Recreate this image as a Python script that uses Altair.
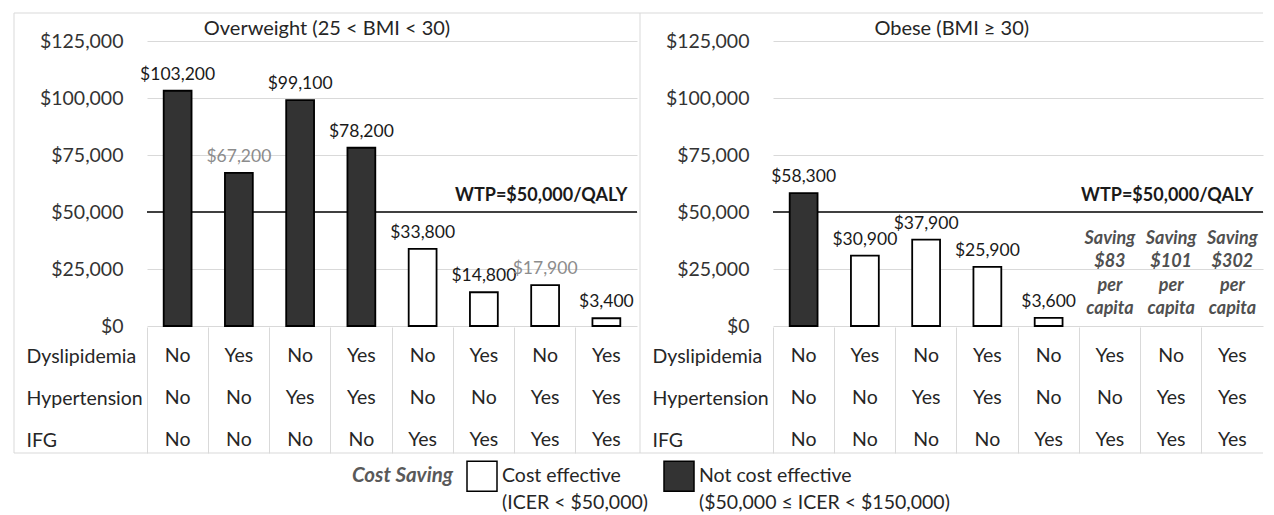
import altair as alt
import pandas as pd

FONT = "Lato"
TEXT = "#262626"
GRID = "#d9d9d9"

# ---------------- data ----------------
panel_titles = ["Overweight (25 < BMI < 30)", "Obese (BMI \u2265 30)"]
risk_factors = ["Dyslipidemia", "Hypertension", "IFG"]
dyslipidemia = ["No", "Yes", "No", "Yes", "No", "Yes", "No", "Yes"]
hypertension = ["No", "No", "Yes", "Yes", "No", "No", "Yes", "Yes"]
ifg = ["No", "No", "No", "No", "Yes", "Yes", "Yes", "Yes"]

overweight_icer = [103200, 67200, 99100, 78200, 33800, 14800, 17900, 3400]
overweight_class = ["Not cost effective"] * 4 + ["Cost effective"] * 4
overweight_saving = [None] * 8
overweight_grey_label = [False, True, False, False, False, False, True, False]

obese_icer = [58300, 30900, 37900, 25900, 3600, None, None, None]
obese_class = ["Not cost effective"] + ["Cost effective"] * 4 + ["Cost saving"] * 3
obese_saving = [None, None, None, None, None, 83, 101, 302]
obese_grey_label = [False] * 8

wtp = 50000
y_ticks = [0, 25000, 50000, 75000, 100000, 125000]
legend_classes = ["Cost effective", "Not cost effective"]
legend_colors = ["#ffffff", "#333333"]
legend_notes = ["(ICER < $50,000)", "($50,000 \u2264 ICER < $150,000)"]
legend_title = "Cost Saving"

cols = [f"{d}|{h}|{g}" for d, h, g in zip(dyslipidemia, hypertension, ifg)]

# ---------------- layout constants ----------------
W, H_BAR, H_TAB = 490, 313, 126
Y_MAX = 137300
LEFT_EDGE = -133

label_expr = (
    f"datum.label == '{legend_classes[0]}' ? ['{legend_classes[0]}', '{legend_notes[0]}'] "
    f": ['{legend_classes[1]}', '{legend_notes[1]}']"
)

LEG = alt.Legend(
    title=legend_title, orient="none", legendX=205, legendY=447,
    direction="horizontal", titleOrient="left", titleFontSize=20.5,
    titleFontStyle="italic", titleFontWeight="bold", titleColor="#595959",
    titlePadding=12, titleBaseline="line-top", titleAnchor="start",
    titleLineHeight=32,
    symbolType="square", symbolSize=900, symbolStrokeColor="#000000",
    symbolStrokeWidth=1.5, labelFontSize=19.5, labelColor=TEXT,
    labelExpr=label_expr, labelLimit=400, columnPadding=13, labelOffset=4,
    symbolOpacity=1,
)


def bar_panel(title, icer, cls, saving, grey, last):
    df = pd.DataFrame({"col": cols, "icer": icer, "cls": cls, "grey": grey})
    df["saving_txt"] = [
        f"Saving\n${int(s)}\nper\ncapita" if s is not None else None for s in saving
    ]
    xs = alt.Scale(type="band", domain=cols, paddingInner=0.545, paddingOuter=0.2725)
    ys = alt.Scale(domain=[0, Y_MAX], nice=False, zero=True)
    X = alt.X("col:N", scale=xs, axis=None, title=None)
    base = alt.Chart(df)

    frame = alt.Chart(pd.DataFrame({"k": [0]}))
    top = frame.mark_rule(color=GRID, strokeWidth=1).encode(
        x=alt.value(LEFT_EDGE), x2=alt.value(W + (3 if not last else 0)), y=alt.value(0))
    left = frame.mark_rule(color=GRID, strokeWidth=1).encode(
        x=alt.value(LEFT_EDGE), y=alt.value(0), y2=alt.value(H_BAR + 1))

    wtp_df = pd.DataFrame({"col": [cols[-1]], "wtp": [wtp],
                           "label": [f"WTP=${wtp:,}/QALY"]})
    rule = alt.Chart(wtp_df).mark_rule(color="#404040", strokeWidth=2).encode(
        y=alt.Y("wtp:Q", scale=ys, title=None))
    wtp_text = alt.Chart(wtp_df).mark_text(
        align="right", baseline="middle", dx=7, dy=-16, fontWeight="bold",
        fontSize=18, color="#1a1a1a").encode(
        x=alt.X("col:N", scale=xs, axis=None, bandPosition=1),
        y=alt.Y("wtp:Q", scale=ys, title=None), text="label:N")

    bars = base.transform_filter("isValid(datum.icer)").mark_bar(
        stroke="#000000", strokeWidth=1.8).encode(
        x=X,
        y=alt.Y("icer:Q", scale=ys, title=None, axis=alt.Axis(
            values=y_ticks, format="$,.0f", grid=True, gridColor=GRID,
            domain=False, ticks=False, tickSize=0, labelPadding=24,
            labelFontSize=19.5, labelColor="#333333")),
        fill=alt.Fill("cls:N", scale=alt.Scale(domain=legend_classes, range=legend_colors),
                      legend=LEG),
    )
    labels = base.transform_filter("isValid(datum.icer)").mark_text(
        baseline="middle", dy=-16, fontSize=17.5).encode(
        x=X, y=alt.Y("icer:Q", scale=ys, title=None),
        text=alt.Text("icer:Q", format="$,.0f"),
        color=alt.condition("datum.grey", alt.value("#8c8c8c"), alt.value("#1a1a1a")),
    )
    sav = base.transform_filter("isValid(datum.saving_txt)").mark_text(
        baseline="middle", dy=-87, lineBreak="\n", lineHeight=23.3,
        fontStyle="italic", fontWeight="bold", fontSize=18, color="#505050").encode(
        x=X, y=alt.YDatum(0, scale=ys, title=None), text="saving_txt:N")

    return alt.layer(top, left, rule, bars, labels, sav, wtp_text).properties(
        width=W, height=H_BAR,
        title=alt.TitleParams(title, anchor="middle", frame="bounds", offset=-26,
                              fontSize=20, fontWeight="normal", color=TEXT, font=FONT),
    )


def table_panel(last):
    tdf = pd.DataFrame([
        {"col": c, "factor": f, "val": v}
        for f, vals in zip(risk_factors, [dyslipidemia, hypertension, ifg])
        for c, v in zip(cols, vals)
    ])
    frame = alt.Chart(pd.DataFrame({"k": [0]}))
    left = frame.mark_rule(color=GRID, strokeWidth=1).encode(
        x=alt.value(LEFT_EDGE), y=alt.value(0), y2=alt.value(H_TAB))
    bottom = frame.mark_rule(color=GRID, strokeWidth=1).encode(
        x=alt.value(LEFT_EDGE), x2=alt.value(W + (3 if not last else 0)), y=alt.value(H_TAB))
    txt = alt.Chart(tdf).mark_text(fontSize=19.5, dy=8, color=TEXT).encode(
        x=alt.X("col:N", title=None,
                scale=alt.Scale(type="band", domain=cols, paddingInner=0, paddingOuter=0),
                axis=alt.Axis(grid=True, bandPosition=0, gridColor=GRID, labels=False,
                              ticks=False, domain=False)),
        y=alt.Y("factor:N", sort=risk_factors, title=None,
                axis=alt.Axis(labelAlign="left", labelPadding=121, labelOffset=8,
                              ticks=False, tickSize=0, domain=False, labelFontSize=19.5,
                              labelColor=TEXT, labelBaseline="middle", grid=False)),
        text="val:N",
    )
    return alt.layer(left, bottom, txt).properties(width=W, height=H_TAB)


barsL = bar_panel(panel_titles[0], overweight_icer, overweight_class,
                  overweight_saving, overweight_grey_label, False)
barsR = bar_panel(panel_titles[1], obese_icer, obese_class,
                  obese_saving, obese_grey_label, True)

chart = alt.concat(
    barsL, barsR, table_panel(False), table_panel(True),
    columns=2, spacing={"row": 1, "column": 136}, bounds="flush",
).properties(
    padding={"left": 5, "top": 4, "right": 0, "bottom": 0}
).configure(
    font=FONT, style={"guide-label": {"lineHeight": 27}}
).configure_view(stroke=None)

chart.save("out.html", embed_options={"renderer": "svg", "actions": False})
